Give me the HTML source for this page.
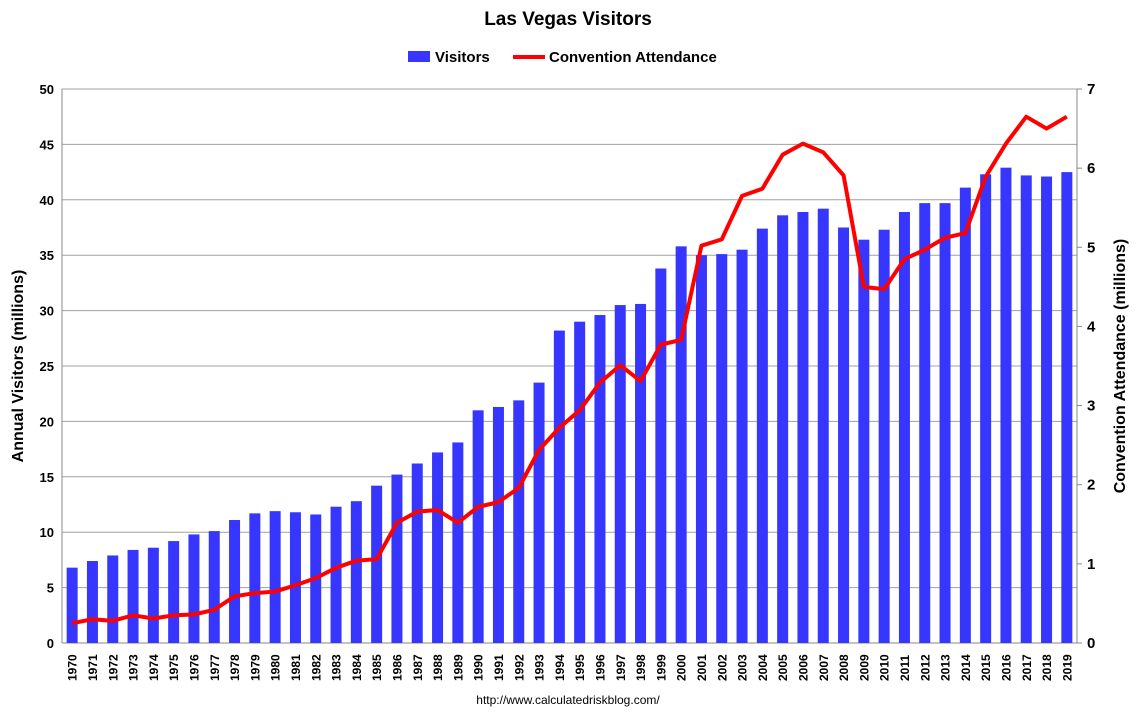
<!DOCTYPE html>
<html><head><meta charset="utf-8"><style>
body{margin:0;background:#fff;font-family:"Liberation Sans",Arial,sans-serif}
svg text{font-family:"Liberation Sans",Arial,sans-serif;font-weight:bold}
</style></head><body>
<svg id="chart" width="1137" height="718">
<text x="568" y="25" text-anchor="middle" font-size="19">Las Vegas Visitors</text>
<g>
<rect x="408" y="51" width="22" height="11" fill="#3636ff"/>
<text x="435" y="62" font-size="15">Visitors</text>
<line x1="513" y1="57" x2="545" y2="57" stroke="#f00" stroke-width="4"/>
<text x="549" y="62" font-size="15">Convention Attendance</text>
</g>
<text transform="translate(23,366) rotate(-90)" text-anchor="middle" font-size="16">Annual Visitors (millions)</text>
<text transform="translate(1125,366) rotate(-90)" text-anchor="middle" font-size="16">Convention Attendance (millions)</text>
<text x="568" y="704" text-anchor="middle" font-size="12" style="font-weight:normal">http://www.calculatedriskblog.com/</text>
<g id="grid"></g><g id="bars"></g><g id="axes"></g><g id="line"></g>
</svg>
<script>
const years=[];for(let y=1970;y<=2019;y++)years.push(y);
const visitors=[6.8,7.4,7.9,8.4,8.6,9.2,9.8,10.1,11.1,11.7,11.9,11.8,11.6,12.3,12.8,14.2,15.2,16.2,17.2,18.1,21.0,21.3,21.9,23.5,28.2,29.0,29.6,30.5,30.6,33.8,35.8,35.0,35.1,35.5,37.4,38.6,38.9,39.2,37.5,36.4,37.3,38.9,39.7,39.7,41.1,42.3,42.9,42.2,42.1,42.5];
const convention=[0.25,0.30,0.28,0.35,0.31,0.35,0.36,0.42,0.59,0.63,0.65,0.73,0.82,0.95,1.04,1.06,1.52,1.66,1.68,1.52,1.72,1.78,1.96,2.44,2.72,2.94,3.29,3.51,3.31,3.77,3.83,5.02,5.10,5.65,5.74,6.17,6.31,6.20,5.91,4.50,4.47,4.85,4.97,5.12,5.18,5.89,6.31,6.65,6.50,6.65];
const leftTicks=[0,5,10,15,20,25,30,35,40,45,50];
const rightTicks=[0,1,2,3,4,5,6,7];
const NS="http://www.w3.org/2000/svg";
const X0=62,X1=1077,Y0=643,Y1=89;
const step=(X1-X0)/years.length;
const xc=i=>X0+step*(i+0.5);
const yl=v=>Y0-(v/50)*(Y0-Y1);
const yr=v=>Y0-(v/7)*(Y0-Y1);
function mk(tag,attrs,parent,txt){const e=document.createElementNS(NS,tag);for(const k in attrs)e.setAttribute(k,attrs[k]);if(txt!==undefined)e.textContent=txt;document.getElementById(parent).appendChild(e);return e;}
leftTicks.forEach(t=>{
 const g=mk('line',{x1:X0,x2:X1,y1:yl(t),y2:yl(t),stroke:t===0?'#888':'#a0a0a0','stroke-width':1},'grid');
 
 
 const l=mk('text',{x:X0-8,y:yl(t)+5,'text-anchor':'end','font-size':13},'axes',t);
 
 
});
rightTicks.forEach(t=>{
 const m=mk('line',{x1:X1,x2:X1+5,y1:yr(t),y2:yr(t),stroke:'#888'},'axes');
 
 
 const l=mk('text',{x:X1+10,y:yr(t)+5,'text-anchor':'start','font-size':15},'axes',t);
 
 
});
mk('line',{x1:X0,x2:X0,y1:Y1,y2:Y0,stroke:'#888'},'axes');
mk('line',{x1:X1,x2:X1,y1:Y1,y2:Y0,stroke:'#888'},'axes');
years.forEach((y,i)=>{
 const b=mk('rect',{x:xc(i)-5.5,y:yl(visitors[i]),width:11,height:Y0-yl(visitors[i]),fill:'#3636ff'},'bars');
 
 
 const t=mk('text',{transform:`translate(${xc(i)+4.5},${Y0+38}) rotate(-90)`,'font-size':12},'axes',y);
 
 
});
const p=mk('polyline',{points:convention.map((v,i)=>xc(i)+','+yr(v)).join(' '),fill:'none',stroke:'#f00','stroke-width':4,'stroke-linejoin':'round'},'line');


</script>
</body></html>
